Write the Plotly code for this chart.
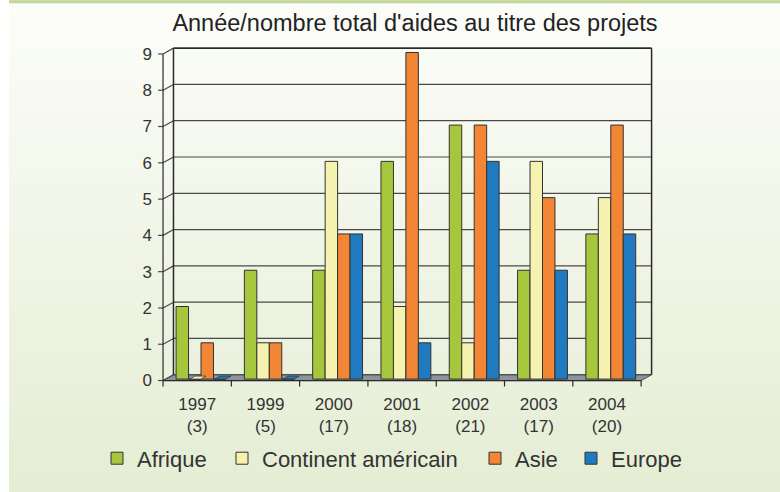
import plotly.graph_objects as go

# data
years = ["1997", "1999", "2000", "2001", "2002", "2003", "2004"]
totals = [3, 5, 17, 18, 21, 17, 20]
afrique = [2, 3, 3, 6, 7, 3, 4]
amerique = [0, 1, 6, 2, 1, 6, 5]
asie = [1, 1, 4, 9, 7, 5, 7]
europe = [0, 0, 4, 1, 6, 3, 4]
y_ticks = list(range(10))

series = [
    ("Afrique", afrique, "#a6c73b"),
    ("Continent américain", amerique, "#f6f2b0"),
    ("Asie", asie, "#f28634"),
    ("Europe", europe, "#1f7ac0"),
]
legend_left_px = [97, 222, 475, 571]   # one small legend per series

# page / plot geometry (pixels)
FIG_W, FIG_H = 780, 492
L, R, T, B = 155, 660, 40, 392
PX_X, PX_Y = 68.3, 36.6          # pixels per category / per unit
X0_PX, Y0_PX = 201, 382          # pixel of category 0 / value 0
BARGAP = 0.27

x_range = [(L - X0_PX) / PX_X, (R - X0_PX) / PX_X]
y_range = [(Y0_PX - B) / PX_Y, (Y0_PX - T) / PX_Y]

# fake 3d offsets (data units) of the front and back planes
FDX, FDY = -0.056, -0.04
BDX, BDY = 0.097, 0.12
n = len(years)
xf0, xf1 = -0.5 + FDX, -0.5 + FDX + n
xb0, xb1 = -0.5 + BDX, -0.5 + BDX + n
ytop = max(y_ticks)

def paper_x(px):
    return (px - L) / (R - L)

def paper_y(py):
    return (B - py) / (B - T)

shapes = []

# background gradient (vertical bands)
n_bands = 40
c_top, c_bot = (252, 253, 249), (229, 237, 212)
for i in range(n_bands):
    y_a = 3 + (FIG_H - 3) * i / n_bands
    y_b = 3 + (FIG_H - 3) * (i + 1) / n_bands + (12 if i == n_bands - 1 else 1)
    f = (i + 0.5) / n_bands
    col = tuple(round(c_top[k] + (c_bot[k] - c_top[k]) * f) for k in range(3))
    shapes.append(dict(type="rect", xref="paper", yref="paper", layer="below",
                       x0=paper_x(9), x1=paper_x(FIG_W + 10), y0=paper_y(y_b), y1=paper_y(y_a),
                       fillcolor="rgb(%d,%d,%d)" % col, line=dict(width=0)))
shapes.append(dict(type="rect", xref="paper", yref="paper", layer="below",
                   x0=paper_x(9), x1=paper_x(FIG_W + 10), y0=paper_y(3), y1=paper_y(0),
                   fillcolor="#c3d69a", line=dict(width=0)))
shapes.append(dict(type="rect", xref="paper", yref="paper", layer="below",
                   x0=paper_x(-10), x1=paper_x(9), y0=paper_y(FIG_H + 10), y1=paper_y(-10),
                   fillcolor="white", line=dict(width=0)))

grid = dict(color="#4a4a4a", width=1.2)

# floor
shapes.append(dict(type="path", layer="below",
                   path=f"M{xf0},{FDY} L{xf1},{FDY} L{xb1},{BDY} L{xb0},{BDY} Z",
                   fillcolor="#8d959c", line=dict(color="#4a4a4a", width=1)))

# back wall grid + left wall diagonals + front ticks
for k in y_ticks:
    shapes.append(dict(type="line", layer="below", x0=xb0, x1=xb1, y0=k + BDY, y1=k + BDY, line=grid))
    shapes.append(dict(type="line", layer="below", x0=xf0, x1=xb0, y0=k + FDY, y1=k + BDY, line=grid))
    shapes.append(dict(type="line", layer="below", x0=xf0 - 5 / PX_X, x1=xf0, y0=k + FDY, y1=k + FDY, line=grid))
shapes.append(dict(type="line", layer="below", x0=xb0, x1=xb0, y0=BDY, y1=ytop + BDY, line=dict(color="#2a2a2a", width=1.5)))
shapes.append(dict(type="line", layer="below", x0=xb1, x1=xb1, y0=BDY, y1=ytop + BDY, line=dict(color="#2a2a2a", width=1.5)))
shapes.append(dict(type="line", layer="below", x0=xb0, x1=xb1, y0=ytop + BDY, y1=ytop + BDY, line=dict(color="#2a2a2a", width=1.5)))
# front value axis
shapes.append(dict(type="line", x0=xf0, x1=xf0, y0=FDY, y1=ytop + FDY, line=dict(color="#2a2a2a", width=1.2)))
# front category axis and its ticks
shapes.append(dict(type="line", x0=xf0, x1=xf1, y0=FDY, y1=FDY, line=dict(color="#2a2a2a", width=1.2)))
for k in range(n + 1):
    shapes.append(dict(type="line", x0=xf0 + k, x1=xf0 + k, y0=FDY, y1=FDY - 6 / PX_Y,
                       line=dict(color="#2a2a2a", width=1.2)))

# zero-height bars show only their top face
bw = (1 - BARGAP) / len(series)
for j, (name, vals, color) in enumerate(series):
    for i, v in enumerate(vals):
        if v == 0:
            a = i - (1 - BARGAP) / 2 + j * bw + 0.02
            b = a + bw - 0.02
            dx, dy = 5 / PX_X, 3 / PX_Y
            shapes.append(dict(type="path",
                               path=f"M{a},0 L{b},0 L{b + dx},{dy} L{a + dx},{dy} Z",
                               fillcolor=color, line=dict(color="#3a3a3a", width=0.8)))

fig = go.Figure()
legends = {}
for j, (name, vals, color) in enumerate(series):
    key = "legend" if j == 0 else f"legend{j + 1}"
    fig.add_trace(go.Bar(x=list(range(n)), y=vals, name=name, legend=key,
                         marker=dict(color=color, line=dict(color="#333333", width=1))))
    legends[key] = dict(orientation="h", x=paper_x(legend_left_px[j]), xanchor="left",
                        y=paper_y(462), yanchor="middle", bgcolor="rgba(0,0,0,0)",
                        font=dict(size=22, color="#333333"))

font_family = "Liberation Sans, Arial, sans-serif"
fig.update_layout(
    width=FIG_W, height=FIG_H,
    margin=dict(l=L, r=FIG_W - R, t=T, b=FIG_H - B, pad=0),
    paper_bgcolor="rgb(229,237,212)",
    plot_bgcolor="rgba(0,0,0,0)",
    barmode="group", bargap=BARGAP, bargroupgap=0,
    font=dict(family=font_family, color="#333333"),
    title=dict(text="Année/nombre total d'aides au titre des projets",
               xref="container", x=415 / FIG_W, xanchor="center", y=1 - 23 / FIG_H, yanchor="middle",
               font=dict(size=23.5, color="#222222")),
    xaxis=dict(range=x_range, showgrid=False, zeroline=False, showline=False, ticks="",
               tickvals=[i + FDX for i in range(n)],
               ticktext=[f"{y}<br>({t})" for y, t in zip(years, totals)],
               tickfont=dict(size=17, color="#333333"), ticklabelstandoff=3),
    yaxis=dict(range=y_range, showgrid=False, zeroline=False, showline=False, ticks="",
               tickvals=[k + FDY for k in y_ticks], ticktext=[str(k) for k in y_ticks],
               tickfont=dict(size=17, color="#333333"), ticklabelstandoff=2),
    showlegend=True,
    shapes=shapes,
    **legends,
)

# drop the default page margin so the figure sits at the window corner
fig.write_html("out.html", config={"displayModeBar": False},
               post_script="document.body.style.margin='0';"
                           "document.body.style.background='rgb(229,237,212)';")
